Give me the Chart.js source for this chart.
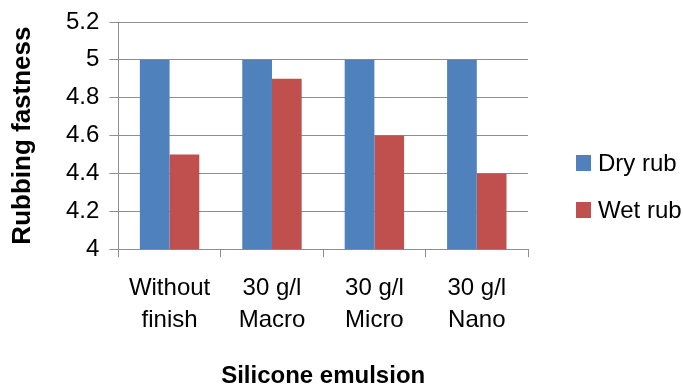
<!DOCTYPE html>
<html>
<head>
<meta charset="utf-8">
<style>
  html, body { margin: 0; padding: 0; background: #fff; }
  #wrap { width: 683px; height: 388px; }
</style>
<script src="https://cdn.jsdelivr.net/npm/chart.js@4"></script>
</head>
<body>
<div id="wrap"><canvas id="c" width="683" height="388"></canvas></div>
<script>
// Rubbing fastness ratings by silicone emulsion treatment
const categories = [["Without", "finish"], ["30 g/l", "Macro"], ["30 g/l", "Micro"], ["30 g/l", "Nano"]];
const dryRub = [5, 5, 5, 5];
const wetRub = [4.5, 4.9, 4.6, 4.4];
const seriesNames = ["Dry rub", "Wet rub"];
const yTicks = [4, 4.2, 4.4, 4.6, 4.8, 5, 5.2];

const BLUE = "#4F81BD";
const RED = "#C0504D";
const AXIS = "#8e8e8e";
const FONT = "'Liberation Sans', Arial, sans-serif";

// Legend drawn at the right of the plot
const sideLegend = {
  id: "sideLegend",
  afterDraw(chart) {
    const { ctx, chartArea } = chart;
    ctx.save();
    ctx.font = "24px " + FONT;
    ctx.textBaseline = "middle";
    ctx.textAlign = "left";
    chart.data.datasets.forEach((ds, i) => {
      const x = chartArea.right + 48;
      const y = 163 + i * 47;
      ctx.fillStyle = ds.backgroundColor;
      ctx.fillRect(x, y - 8, 15, 16);
      ctx.fillStyle = "#000";
      ctx.fillText(ds.label, x + 22, y + 1);
    });
    ctx.restore();
  }
};

new Chart(document.getElementById("c"), {
  type: "bar",
  data: {
    labels: categories,
    datasets: [
      { label: seriesNames[0], data: dryRub, backgroundColor: BLUE },
      { label: seriesNames[1], data: wetRub, backgroundColor: RED }
    ]
  },
  options: {
    responsive: false,
    animation: false,
    devicePixelRatio: 1,
    layout: { padding: { top: 14, right: 155, left: 0, bottom: 0 } },
    datasets: { bar: { categoryPercentage: 0.58, barPercentage: 1.0 } },
    plugins: { legend: { display: false }, tooltip: { enabled: false } },
    scales: {
      x: {
        grid: { drawOnChartArea: false, offset: true, color: AXIS, tickLength: 8 },
        border: { color: AXIS },
        ticks: { color: "#000", font: { family: FONT, size: 24, lineHeight: 1.33 }, padding: 15, maxRotation: 0 },
        title: { display: true, text: "Silicone emulsion", color: "#000",
                 font: { family: FONT, size: 24, weight: "bold", lineHeight: 1 },
                 padding: { top: 13, bottom: 0 } }
      },
      y: {
        min: 4, max: 5.2,
        afterBuildTicks(scale) { scale.ticks = yTicks.map(v => ({ value: v })); },
        grid: { color: AXIS, tickLength: 9 },
        border: { color: AXIS },
        ticks: { color: "#000", font: { family: FONT, size: 24, lineHeight: 1 }, padding: 10,
                 callback: v => String(Number(v.toFixed(1))) },
        title: { display: true, text: "Rubbing fastness", color: "#000",
                 font: { family: FONT, size: 26, weight: "bold", lineHeight: 1 },
                 padding: { top: 10, bottom: 20 } }
      }
    }
  },
  plugins: [sideLegend]
});
</script>
</body>
</html>
